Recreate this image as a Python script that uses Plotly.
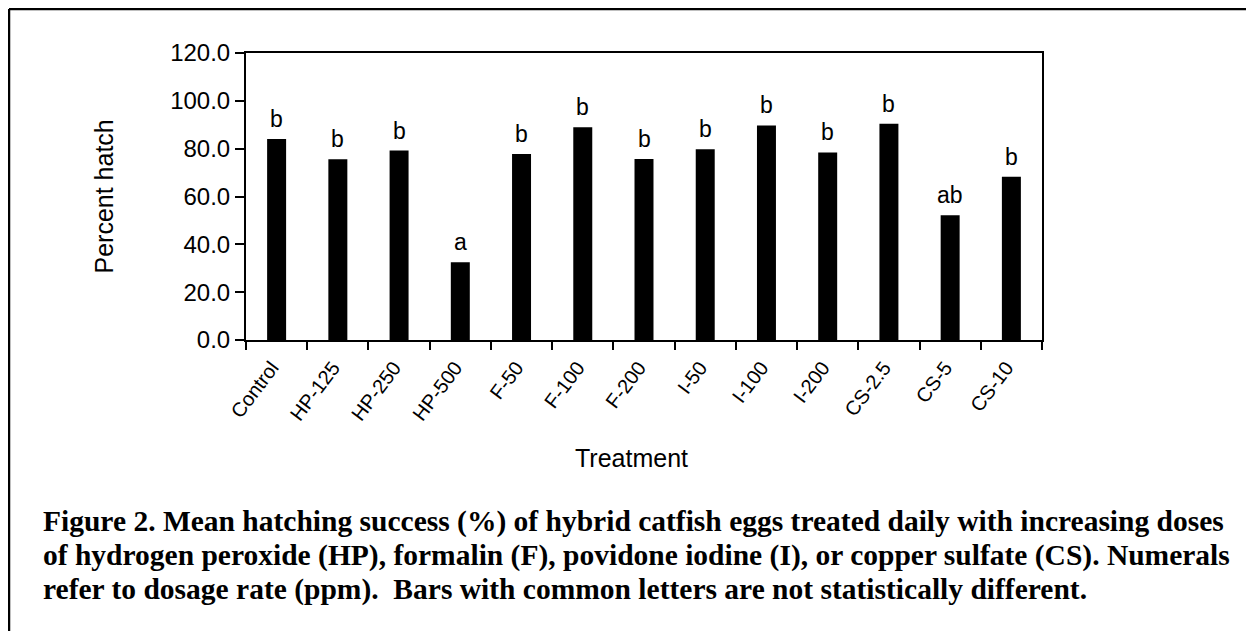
import plotly.graph_objects as go

treatments = ["Control", "HP-125", "HP-250", "HP-500", "F-50", "F-100", "F-200",
              "I-50", "I-100", "I-200", "CS-2.5", "CS-5", "CS-10"]
percent_hatch = [84.0, 75.6, 79.2, 32.5, 77.8, 89.0, 75.7, 79.8, 89.7, 78.4, 90.4, 52.2, 68.3]
letters = ["b", "b", "b", "a", "b", "b", "b", "b", "b", "b", "b", "ab", "b"]

caption_lines = [
    "Figure 2. Mean hatching success (%) of hybrid catfish eggs treated daily with increasing doses",
    "of hydrogen peroxide (HP), formalin (F), povidone iodine (I), or copper sulfate (CS). Numerals",
    "refer to dosage rate (ppm).  Bars with common letters are not statistically different.",
]

SANS = "Liberation Sans, Arial, sans-serif"
SERIF = "Liberation Serif, Times New Roman, serif"

# page body has an 8px margin; figure sized to fill the rest of the window
OFF = 8
W, H = 1246, 623
L, R, T, B = 238, 212, 45, 291
PW, PH = W - L - R, H - T - B


def px_x(page_x):
    return (page_x - OFF - L) / PW


def px_y(page_y):
    return (H - B - (page_y - OFF)) / PH


fig = go.Figure()
fig.add_trace(go.Bar(x=treatments, y=percent_hatch, width=0.31,
                     marker=dict(color="black", line=dict(width=0))))

for t, v, s in zip(treatments, percent_hatch, letters):
    fig.add_annotation(x=t, y=v, text=s, showarrow=False, yanchor="bottom",
                       yshift=5, font=dict(family=SANS, size=23, color="black"))

fig.add_annotation(xref="paper", yref="paper", x=px_x(103), y=0.5, text="Percent hatch",
                   textangle=-90, showarrow=False, xanchor="center", yanchor="middle",
                   font=dict(family=SANS, size=25, color="black"))
fig.add_annotation(xref="paper", yref="paper", x=px_x(631), y=px_y(458), text="Treatment",
                   showarrow=False, xanchor="center", yanchor="middle",
                   font=dict(family=SANS, size=25, color="black"))

for line, base in zip(caption_lines, [531, 565, 599]):
    fig.add_annotation(xref="paper", yref="paper", x=px_x(41), y=px_y(base - 9.5),
                       text="<b>" + line + "</b>", showarrow=False,
                       xanchor="left", yanchor="middle",
                       font=dict(family=SERIF, size=29.5, color="black"))

# figure frame (top and left edges)
fig.add_shape(type="line", xref="paper", yref="paper", x0=px_x(9), x1=px_x(1300),
              y0=px_y(9), y1=px_y(9), line=dict(color="black", width=2.5))
fig.add_shape(type="line", xref="paper", yref="paper", x0=px_x(9), x1=px_x(9),
              y0=px_y(9), y1=px_y(700), line=dict(color="black", width=2.5))

fig.update_layout(
    width=W, height=H,
    margin=dict(l=L, r=R, t=T, b=B, pad=0),
    paper_bgcolor="white", plot_bgcolor="white",
    showlegend=False,
    font=dict(family=SANS, color="black"),
)
fig.update_xaxes(type="category", showline=True, linecolor="black", linewidth=2,
                 mirror=True, ticks="outside", tickson="boundaries", ticklen=8,
                 tickwidth=2, tickcolor="black", tickangle=-53,
                 ticklabelshift=-5, ticklabelstandoff=6,
                 tickfont=dict(family=SANS, size=20, color="black"), showgrid=False)
fig.update_yaxes(range=[0, 120], dtick=20, tickformat=".1f", showline=True,
                 linecolor="black", linewidth=2, mirror=True, ticks="outside",
                 ticklen=9, tickwidth=2, tickcolor="black", showgrid=False,
                 zeroline=False, tickfont=dict(family=SANS, size=24, color="black"))

fig.write_html("out.html")
